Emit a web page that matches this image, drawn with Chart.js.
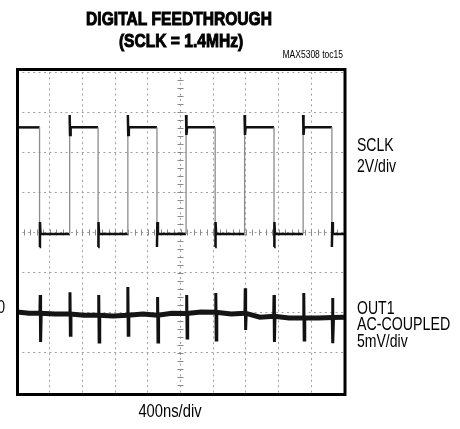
<!DOCTYPE html>
<html>
<head>
<meta charset="utf-8">
<title>Digital Feedthrough</title>
<script src="https://cdn.jsdelivr.net/npm/chart.js@4/dist/chart.umd.min.js"></script>
<style>
    html, body { margin: 0; padding: 0; background: #fff; }
    #scope { display: block; }
</style>
</head>
<body>
<canvas id="scope" width="460" height="429"></canvas>
<script>
'use strict';

//
// Values (x in divisions of 400ns, y in divisions)
//

const sclkFalling = [0.69, 2.48, 4.28, 6.06, 7.86, 9.63];
const sclkRising = [1.61, 3.39, 5.17, 6.96, 8.75];
const sclkHigh = 2.62;
const sclkLow = -0.04;
const sclkOvershoot = 2.93;
const sclkRingDown = 2.43;
const sclkUndershoot = -0.36;
const sclkRingUp = 0.26;

const outSpikeT = [0.71, 1.62, 2.50, 3.39, 4.30, 5.19, 6.08, 6.98, 7.86, 8.77, 9.65];
const outSpikeBase = [-2.01, -2.03, -2.06, -2.06, -2.06, -2.02, -1.99, -2.01, -2.09, -2.13, -2.12];
const outTop = [-1.56, -1.49, -1.56, -1.36, -1.61, -1.56, -1.51, -1.39, -1.56, -1.51, -1.63];
const outBottom = [-2.73, -2.56, -2.73, -2.56, -2.73, -2.63, -2.68, -2.43, -2.73, -2.68, -2.76];
const outBaseT = [0, 0.37, 1.16, 2.05, 2.94, 3.85, 4.74, 5.63, 6.55, 7.43, 8.32, 9.21, 10];
const outBaseV = [-1.98, -2.01, -2.03, -2.06, -2.08, -2.03, -2.01, -1.98, -2.03, -2.11, -2.13, -2.13, -2.11];

const xDivs = [0, 10];
const yDivs = [-4, 4];


//
// Build the traces
//

function buildSclk() {
    let pts = [{ x: xDivs[0], y: sclkHigh }];
    let edges = [];
    sclkFalling.forEach(t => edges.push({ t: t, dir: -1 }));
    sclkRising.forEach(t => edges.push({ t: t, dir: 1 }));
    edges.sort((a, b) => a.t - b.t);

    for (let e of edges) {
        if (e.dir < 0) {
            pts.push({ x: e.t, y: sclkHigh });
            pts.push({ x: e.t, y: sclkUndershoot });
            pts.push({ x: e.t + 0.012, y: sclkRingUp });
            pts.push({ x: e.t + 0.03, y: sclkLow });
        } else {
            pts.push({ x: e.t, y: sclkLow });
            pts.push({ x: e.t, y: sclkOvershoot });
            pts.push({ x: e.t + 0.012, y: sclkRingDown });
            pts.push({ x: e.t + 0.03, y: sclkHigh });
        }
    }
    pts.push({ x: xDivs[1], y: sclkLow });
    return pts;
}

// the noisy baseline of OUT1
function buildOutBase() {
    let pts = [];
    outBaseT.forEach((t, i) => pts.push({ x: t, y: outBaseV[i] }));
    outSpikeT.forEach((t, i) => pts.push({ x: t, y: outSpikeBase[i] }));
    pts.sort((a, b) => a.x - b.x);
    return pts;
}

// the glitches, one short stroke per clock edge, broken by gaps
function buildOutSpikes() {
    let pts = [];
    outSpikeT.forEach((t, i) => {
        pts.push({ x: t - 0.01, y: outSpikeBase[i] });
        pts.push({ x: t, y: outTop[i] });
        pts.push({ x: t + 0.012, y: outBottom[i] });
        pts.push({ x: t + 0.03, y: outSpikeBase[i] });
        pts.push({ x: t + 0.04, y: null });
    });
    return pts;
}


//
// Plugins: graticule ticks, frame, labels
//

function drawText(ctx, str, x, y, font, sx, align, heavy) {
    ctx.save();
    ctx.font = font;
    ctx.fillStyle = '#000';
    ctx.strokeStyle = '#000';
    ctx.textBaseline = 'alphabetic';
    ctx.translate(x, y);
    ctx.scale(sx, 1);
    ctx.textAlign = align;
    ctx.fillText(str, 0, 0);
    if (heavy) {
        ctx.lineWidth = heavy;
        ctx.strokeText(str, 0, 0);
    }
    ctx.restore();
}

const graticulePlugin = {
    id: 'graticule',
    beforeDatasetsDraw(chart) {
        const ctx = chart.ctx;
        const xs = chart.scales.x;
        const ys = chart.scales.y;
        const cx = xs.getPixelForValue(5);
        const cy = ys.getPixelForValue(0);
        ctx.save();
        ctx.strokeStyle = '#8a8a8a';
        ctx.lineWidth = 1;
        ctx.beginPath();
        for (let v = yDivs[0]; v <= yDivs[1]; v += 0.2) {
            const py = Math.round(ys.getPixelForValue(v)) + 0.5;
            ctx.moveTo(cx - 3, py);
            ctx.lineTo(cx + 3, py);
        }
        for (let v = xDivs[0]; v <= xDivs[1]; v += 0.2) {
            const px = Math.round(xs.getPixelForValue(v)) + 0.5;
            ctx.moveTo(px, cy - 3);
            ctx.lineTo(px, cy + 3);
        }
        ctx.stroke();
        ctx.restore();
    },
    afterDatasetsDraw(chart) {
        const ctx = chart.ctx;
        const a = chart.chartArea;
        ctx.save();
        ctx.strokeStyle = '#000';
        ctx.lineWidth = 3;
        ctx.strokeRect(a.left + 0.5, a.top - 2.5, a.right - a.left + 0.5, a.bottom - a.top + 4);
        ctx.restore();
    },
    afterDraw(chart) {
        const ctx = chart.ctx;
        const bold = 'bold 19px "Liberation Sans", Arial, sans-serif';
        const reg = '18px "Liberation Sans", Arial, sans-serif';
        drawText(ctx, 'DIGITAL FEEDTHROUGH', 179, 25, bold, 0.82, 'center', 1);
        drawText(ctx, '(SCLK = 1.4MHz)', 181, 47, bold, 0.82, 'center', 1);
        drawText(ctx, 'MAX5308 toc15', 343, 58, '10px "Liberation Sans", Arial, sans-serif', 0.85, 'right');

        drawText(ctx, 'SCLK', 357, 151, reg, 0.78, 'left');
        drawText(ctx, '2V/div', 357, 172, reg, 0.78, 'left');
        drawText(ctx, 'OUT1', 357, 314, reg, 0.78, 'left');
        drawText(ctx, 'AC-COUPLED', 357, 330, reg, 0.79, 'left');
        drawText(ctx, '5mV/div', 357, 347, reg, 0.78, 'left');
        drawText(ctx, '0', 5, 313, reg, 0.78, 'right');
        drawText(ctx, '400ns/div', 170, 417, reg, 0.82, 'center');
    }
};


//
// Chart
//

const gray = '#8c8c8c';

new Chart(document.getElementById('scope').getContext('2d'), {
    type: 'line',
    data: {
        datasets: [
            {
                label: 'SCLK',
                data: buildSclk(),
                borderColor: '#111',
                borderWidth: 2.5,
                pointRadius: 0,
                tension: 0,
                segment: {
                    borderColor: c => c.p0.parsed.x === c.p1.parsed.x ? gray : '#111',
                    borderWidth: c => c.p0.parsed.x === c.p1.parsed.x ? 1.3 : 2.5
                }
            },
            {
                label: 'OUT1',
                data: buildOutBase(),
                borderColor: '#151515',
                borderWidth: 5,
                pointRadius: 0,
                tension: 0
            },
            {
                label: 'OUT1 glitch',
                data: buildOutSpikes(),
                borderColor: '#111',
                borderWidth: 3,
                pointRadius: 0,
                tension: 0,
                spanGaps: false
            }
        ]
    },
    options: {
        responsive: false,
        animation: false,
        events: [],
        layout: { padding: { left: 17, right: 116, top: 72, bottom: 36 } },
        plugins: { legend: { display: false }, tooltip: { enabled: false } },
        scales: {
            x: {
                type: 'linear',
                min: xDivs[0],
                max: xDivs[1],
                ticks: { stepSize: 1, display: false },
                grid: { color: '#a0a0a0', lineWidth: 1, drawTicks: false },
                border: { display: false, dash: [2, 3.4] }
            },
            y: {
                type: 'linear',
                min: yDivs[0],
                max: yDivs[1],
                ticks: { stepSize: 1, display: false },
                grid: { color: '#a0a0a0', lineWidth: 1, drawTicks: false },
                border: { display: false, dash: [2, 3.4] }
            }
        }
    },
    plugins: [graticulePlugin]
});
</script>
</body>
</html>
